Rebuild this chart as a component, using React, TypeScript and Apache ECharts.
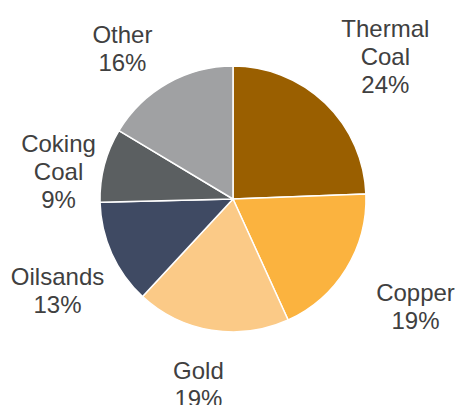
import React, { useEffect, useRef } from "react";
import * as echarts from "echarts";

const categories = ["Thermal\nCoal", "Copper", "Gold", "Oilsands", "Coking\nCoal", "Other"];
const shares = [24.4, 18.8, 18.7, 12.7, 9.0, 16.4];
const colors = ["#9A5F00", "#FBB33F", "#FBCA87", "#3F4A63", "#5B5F61", "#A0A1A3"];
// small label nudges (style only) to mimic the reference label placement
const labelNudges = [
  [15, 0],
  [14, 4],
  [-3, -10],
  [5, 10],
  [17, 23],
  [-13, 22],
];

export default function App() {
  const ref = useRef<HTMLDivElement>(null);
  useEffect(() => {
    if (!ref.current) return;
    const chart = echarts.init(ref.current, null, { renderer: "svg" });
    const data = categories.map((name, i) => ({
      name,
      value: shares[i],
      itemStyle: { color: colors[i] },
    }));
    chart.setOption({
      animation: false,
      backgroundColor: "#ffffff",
      series: [
        {
          type: "pie",
          center: [233, 199],
          radius: [0, 133],
          startAngle: 90,
          clockwise: true,
          silent: true,
          itemStyle: { borderColor: "#ffffff", borderWidth: 1.5 },
          label: { show: false },
          labelLine: { show: false },
          data,
        },
        {
          type: "pie",
          center: [233, 199],
          radius: [185, 205],
          startAngle: 90,
          clockwise: true,
          silent: true,
          itemStyle: { color: "rgba(0,0,0,0)", borderWidth: 0 },
          label: {
            show: true,
            position: "inside",
            formatter: (p: any) => `${p.name}\n${Math.round(p.value)}%`,
            fontFamily: "Liberation Sans, Arial, sans-serif",
            fontSize: 24,
            lineHeight: 28,
            color: "#404040",
            align: "center",
          },
          labelLine: { show: false },
          data: categories.map((name, i) => ({
            name,
            value: shares[i],
            label: { offset: labelNudges[i] },
          })),
        },
      ],
    });
    return () => chart.dispose();
  }, []);
  return (
    <div
      ref={ref}
      style={{ position: "fixed", left: 0, top: 0, width: 459, height: 405 }}
    />
  );
}
